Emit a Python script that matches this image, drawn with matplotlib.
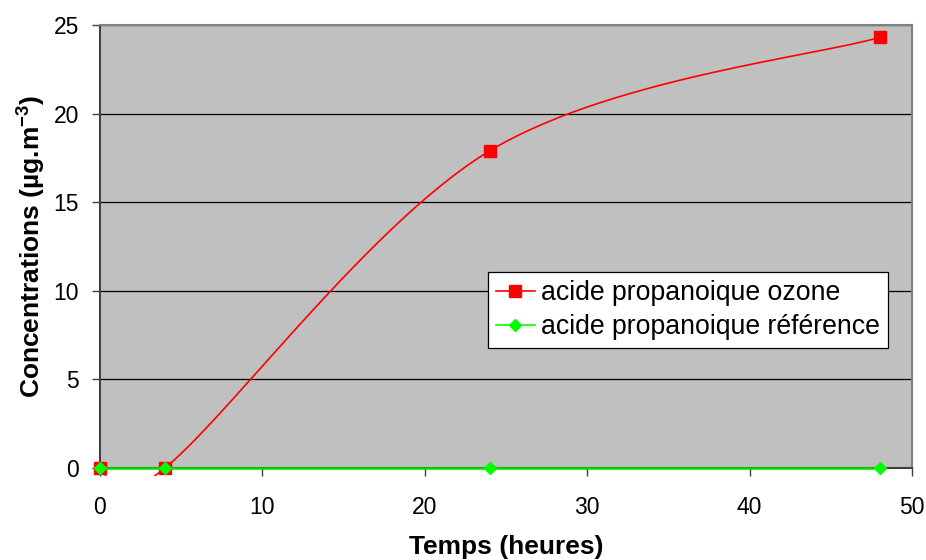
import numpy as np
import matplotlib
matplotlib.use("Agg")
import matplotlib.pyplot as plt
from matplotlib.patches import Rectangle

plt.rcParams['font.family'] = ['Liberation Sans', 'DejaVu Sans']
plt.rcParams['mathtext.fontset'] = 'custom'
plt.rcParams['mathtext.rm'] = 'Liberation Sans'
plt.rcParams['mathtext.bf'] = 'Liberation Sans:bold'

hours = [0, 4, 24, 48]
ozone = [0.0, 0.0, 17.9, 24.3]
reference = [0.0, 0.0, 0.0, 0.0]
x_ticks = [0, 10, 20, 30, 40, 50]
y_ticks = [0, 5, 10, 15, 20, 25]
label_ozone = "acide propanoique ozone"
label_ref = "acide propanoique référence"


def excel_smooth(xs, ys, n=60):
    P = np.column_stack([xs, ys]).astype(float)
    k = len(P)
    out = []
    for i in range(k - 1):
        p0 = P[i - 1] if i > 0 else P[i]
        p1 = P[i]
        p2 = P[i + 1]
        p3 = P[i + 2] if i + 2 < k else P[i + 1]
        c1 = p1 + (p2 - p0) / 6.0
        c2 = p2 - (p3 - p1) / 6.0
        t = np.linspace(0, 1, n)[:, None]
        seg = ((1 - t) ** 3) * p1 + 3 * ((1 - t) ** 2) * t * c1 + 3 * (1 - t) * t ** 2 * c2 + t ** 3 * p2
        out.append(seg if i == 0 else seg[1:])
    arr = np.vstack(out)
    return arr[:, 0], arr[:, 1]


fig = plt.figure(figsize=(9.26, 5.6), dpi=100)
ax = fig.add_axes([100 / 926, 1 - 468 / 560, 812 / 926, 443 / 560])
ax.set_facecolor('#C0C0C0')
ax.set_xlim(0, 50)
ax.set_ylim(0, 25)

for yv in y_ticks[1:]:
    ax.axhline(yv, color='black', lw=0.9, zorder=1)

sx, sy = excel_smooth(hours, ozone)
line, = ax.plot(sx, sy, color='#FF0000', lw=1.2, zorder=3)
clip = Rectangle((0, -0.018), 1, 1.018, transform=ax.transAxes, facecolor='none', edgecolor='none')
ax.add_patch(clip)
line.set_clip_path(clip)
ax.plot(hours, ozone, ls='none', marker='s', ms=8.6, color='#FF0000', zorder=4, clip_on=False)

ax.plot(hours, reference, color='#00E000', lw=1.8, zorder=5, clip_on=False)
ax.plot(hours, reference, ls='none', marker='D', ms=6, color='#00FF00', zorder=6, clip_on=False)

h1, = ax.plot([], [], color='#FF0000', lw=1.2, marker='s', ms=8.6)
h2, = ax.plot([], [], color='#00FF00', lw=1.2, marker='D', ms=6)
leg = ax.legend([h1, h2], [label_ozone, label_ref], loc='upper left',
                bbox_to_anchor=((488 - 100) / 812, (468 - 272) / 443),
                frameon=True, fancybox=False, framealpha=1, edgecolor='black',
                fontsize=19.2, handlelength=1.45, handletextpad=0.25,
                borderpad=0.3, labelspacing=0.3, borderaxespad=0)
leg.get_frame().set_linewidth(0.9)

ax.set_xticks(x_ticks)
ax.set_yticks(y_ticks)
ax.tick_params(axis='both', labelsize=16.5, direction='out', length=6, width=1, color='#404040')
ax.tick_params(axis='x', pad=14)
ax.tick_params(axis='y', pad=9)

for s in ['top', 'right']:
    ax.spines[s].set_color('#808080')
    ax.spines[s].set_linewidth(1.5)
for s in ['left', 'bottom']:
    ax.spines[s].set_color('#404040')
    ax.spines[s].set_linewidth(1.5)

ax.set_xlabel('Temps (heures)', fontsize=19, fontweight='bold', labelpad=12)
ax.set_ylabel(r'Concentrations (µg.m$^{\mathbf{-3}}$)', fontsize=19, fontweight='bold', labelpad=5)

fig.savefig('out.png', dpi=100, facecolor='white')
